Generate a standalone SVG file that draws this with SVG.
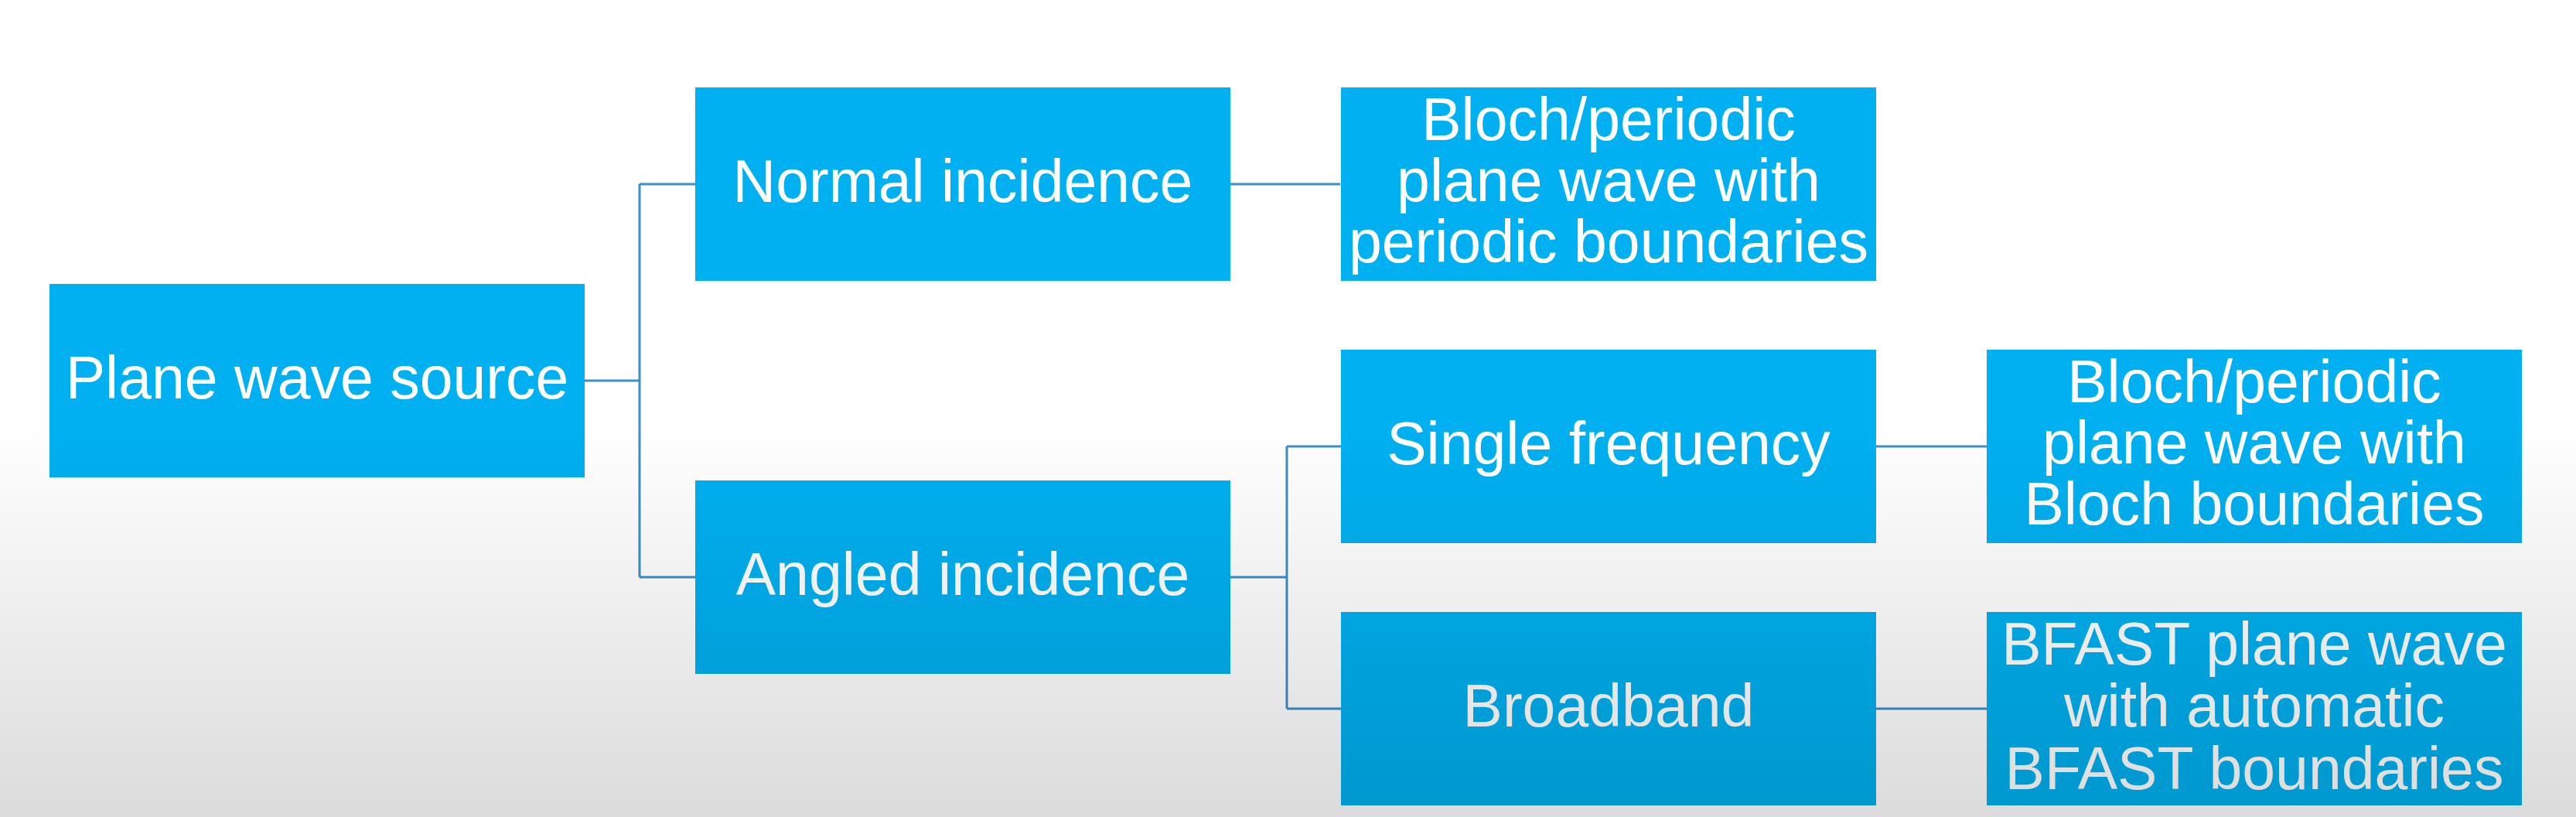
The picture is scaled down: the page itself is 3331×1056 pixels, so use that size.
<svg xmlns="http://www.w3.org/2000/svg" width="3331" height="1056" viewBox="0 0 3331 1056">
  <defs>
    <linearGradient id="shade" x1="0" y1="0" x2="0" y2="1056" gradientUnits="userSpaceOnUse">
      <stop offset="0" stop-color="#000" stop-opacity="0"/>
      <stop offset="0.52" stop-color="#000" stop-opacity="0"/>
      <stop offset="1" stop-color="#000" stop-opacity="0.14"/>
    </linearGradient>
  </defs>
  <style>
    .box { fill: #00b0f0; }
    .lbl { font-family: "Liberation Sans", Arial, sans-serif; font-size: 77px; fill: #ffffff; text-anchor: middle; }
    .conn { stroke: #3d8ec4; stroke-width: 3; fill: none; }
  </style>
  <rect x="0" y="0" width="3331" height="1056" fill="#ffffff"/>

  <g id="connectors">
    <path class="conn" d="M756,492 H827 M827,238 V746 M827,238 H899 M827,746 H899"/>
    <path class="conn" d="M1591,238 H1733"/>
    <path class="conn" d="M1591,746 H1664 M1664,577 V916 M1664,577 H1734 M1664,916 H1734"/>
    <path class="conn" d="M2426,577 H2569"/>
    <path class="conn" d="M2426,916 H2569"/>
  </g>

  <g id="plane-wave-source">
    <rect class="box" x="64" y="367" width="692" height="250"/>
    <text class="lbl" x="410" y="515">Plane wave source</text>
  </g>
  <g id="normal-incidence">
    <rect class="box" x="899" y="113" width="692" height="250"/>
    <text class="lbl" x="1245" y="261">Normal incidence</text>
  </g>
  <g id="bloch-periodic-normal">
    <rect class="box" x="1734" y="113" width="692" height="250"/>
    <text class="lbl" x="2080" y="181">Bloch/periodic</text>
    <text class="lbl" x="2080" y="260">plane wave with</text>
    <text class="lbl" x="2080" y="339">periodic boundaries</text>
  </g>
  <g id="angled-incidence">
    <rect class="box" x="899" y="621" width="692" height="250"/>
    <text class="lbl" x="1245" y="769">Angled incidence</text>
  </g>
  <g id="single-frequency">
    <rect class="box" x="1734" y="452" width="692" height="250"/>
    <text class="lbl" x="2080" y="600">Single frequency</text>
  </g>
  <g id="bloch-periodic-angled">
    <rect class="box" x="2569" y="452" width="692" height="250"/>
    <text class="lbl" x="2915" y="520">Bloch/periodic</text>
    <text class="lbl" x="2915" y="599">plane wave with</text>
    <text class="lbl" x="2915" y="678">Bloch boundaries</text>
  </g>
  <g id="broadband">
    <rect class="box" x="1734" y="791" width="692" height="250"/>
    <text class="lbl" x="2080" y="939">Broadband</text>
  </g>
  <g id="bfast">
    <rect class="box" x="2569" y="791" width="692" height="250"/>
    <text class="lbl" x="2915" y="859">BFAST plane wave</text>
    <text class="lbl" x="2915" y="939">with automatic</text>
    <text class="lbl" x="2915" y="1020">BFAST boundaries</text>
  </g>

  <rect x="0" y="0" width="3331" height="1056" fill="url(#shade)" pointer-events="none"/>
</svg>
